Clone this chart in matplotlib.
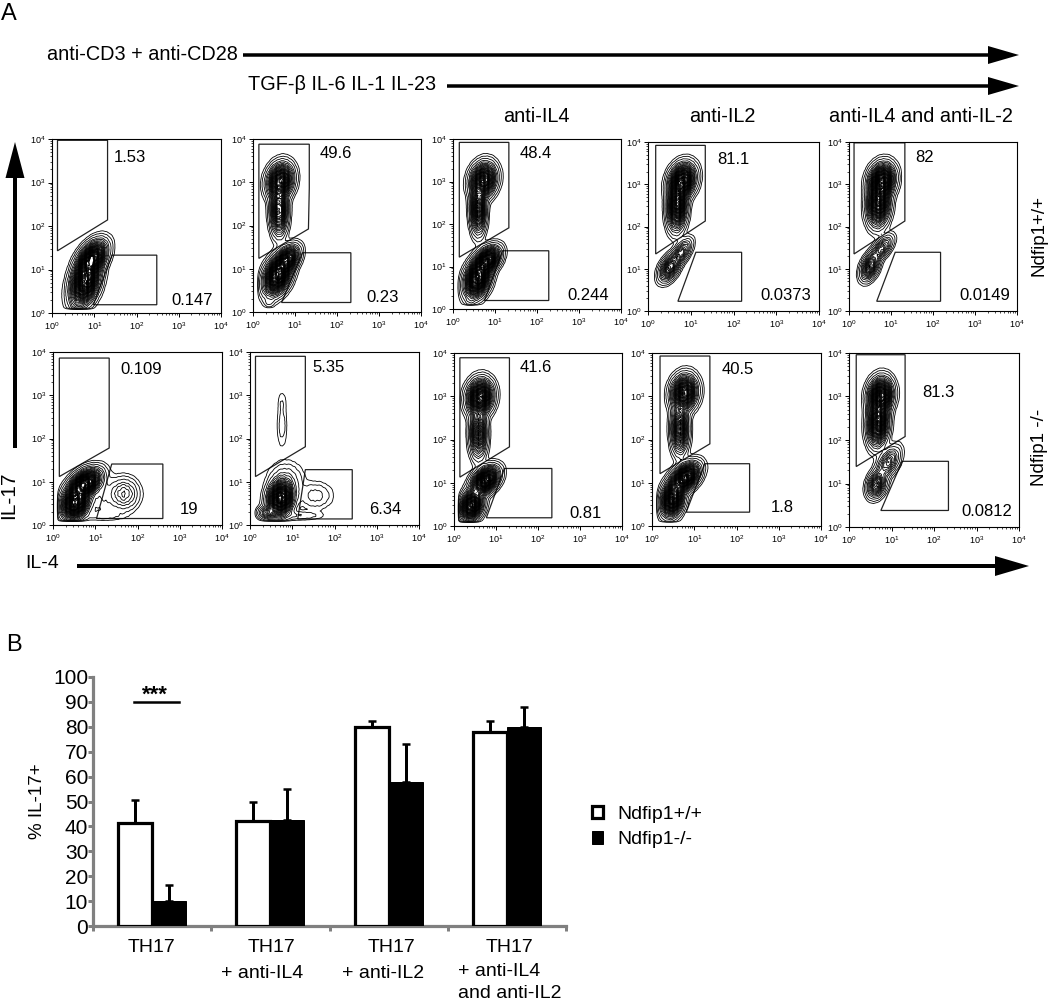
"""Flow cytometry contour panels (A) and % IL-17+ bar chart (B)."""

import matplotlib
matplotlib.use("Agg")
import matplotlib.pyplot as plt
import numpy as np
from matplotlib.patches import FancyArrow, Polygon

plt.rcParams["font.family"] = ["Liberation Sans", "DejaVu Sans"]

W, H = 1050, 1001

# ---------------------------------------------------------------------------
# Panel A data: all gate and population values are in log10 decades
# ---------------------------------------------------------------------------
UPPER_PCT = ["1.53", "49.6", "48.4", "81.1", "82", "0.109", "5.35", "41.6", "40.5", "81.3"]
LOWER_PCT = ["0.147", "0.23", "0.244", "0.0373", "0.0149", "19", "6.34", "0.81", "1.8", "0.0812"]

UPPER_GATES = [
    [(0.13, 3.97), (1.315, 3.97), (1.315, 2.14), (0.13, 1.43)],
    [(0.14, 3.88), (1.34, 3.88), (1.34, 2.86), (1.32, 1.92), (0.14, 1.24)],
    [(0.15, 3.92), (1.33, 3.92), (1.33, 1.91), (0.15, 1.22)],
    [(0.18, 3.92), (1.34, 3.92), (1.34, 2.13), (0.18, 1.35)],
    [(0.12, 3.98), (1.33, 3.98), (1.33, 2.13), (0.12, 1.35)],
    [(0.15, 3.86), (1.33, 3.86), (1.33, 1.78), (0.15, 1.12)],
    [(0.13, 3.90), (1.31, 3.90), (1.31, 1.81), (0.13, 1.12)],
    [(0.14, 3.89), (1.32, 3.89), (1.32, 1.83), (0.14, 1.13)],
    [(0.19, 3.93), (1.37, 3.93), (1.37, 1.90), (0.19, 1.21)],
    [(0.17, 3.96), (1.32, 3.96), (1.32, 2.08), (0.17, 1.39)],
]
LOWER_GATES = [
    [(0.98, 0.19), (1.42, 1.33), (2.48, 1.33), (2.48, 0.19)],
    [(0.68, 0.22), (1.18, 1.37), (2.33, 1.37), (2.33, 0.22)],
    [(0.75, 0.20), (1.18, 1.37), (2.28, 1.37), (2.28, 0.20)],
    [(0.70, 0.23), (1.12, 1.39), (2.19, 1.39), (2.19, 0.23)],
    [(0.66, 0.23), (1.10, 1.39), (2.18, 1.39), (2.18, 0.23)],
    [(1.03, 0.15), (1.39, 1.41), (2.60, 1.41), (2.60, 0.15)],
    [(1.13, 0.14), (1.31, 1.28), (2.42, 1.28), (2.42, 0.14)],
    [(0.77, 0.19), (1.20, 1.33), (2.33, 1.33), (2.33, 0.19)],
    [(0.81, 0.32), (1.25, 1.44), (2.31, 1.44), (2.31, 0.32)],
    [(0.75, 0.38), (1.25, 1.51), (2.34, 1.51), (2.34, 0.38)],
]

# cell populations: (il4, il17, spread il4, spread il17, tilt, weight)
POPULATIONS = [
    [(0.78, 0.72, .17, .27, .35, 1), (0.95, 1.25, .17, .20, .45, .9), (0.55, 0.18, .06, .06, 0, .03)],
    [(0.65, 3.03, .15, .20, .15, .8), (0.62, 2.35, .10, .28, 0, .6), (0.58, 0.85, .16, .22, .35, 1),
     (0.82, 1.22, .14, .16, .4, .6), (0.38, 0.22, .07, .07, 0, .03)],
    [(0.72, 3.03, .15, .20, .15, .8), (0.60, 2.35, .09, .28, 0, .6), (0.58, 0.72, .15, .22, .3, 1),
     (0.82, 1.15, .15, .16, .4, .8), (0.40, 0.18, .07, .06, 0, .03)],
    [(0.80, 3.08, .15, .20, .2, .9), (0.68, 2.50, .11, .28, .1, .8), (0.50, 1.02, .12, .16, .45, .4),
     (0.78, 1.38, .12, .16, .6, .25)],
    [(0.78, 3.08, .15, .20, .15, .9), (0.70, 2.55, .13, .26, .1, .8), (0.50, 1.05, .11, .16, .4, .4),
     (0.78, 1.48, .13, .15, .6, .25)],
    [(0.52, 0.50, .16, .18, .2, 1), (0.75, 0.95, .19, .17, .45, 1), (1.68, 0.72, .18, .19, 0, .14),
     (1.20, 0.70, .20, .25, 0, .03), (1.20, 0.22, .30, .07, 0, .02)],
    [(0.72, 0.62, .15, .21, .15, 1), (0.42, 0.28, .12, .08, 0, .2), (0.85, 1.05, .22, .22, 0, .05),
     (0.76, 2.30, .07, .30, 0, .022), (0.76, 2.85, .06, .15, 0, .012), (1.55, 0.68, .22, .17, 0, .04),
     (1.15, 0.22, .32, .06, 0, .03)],
    [(0.62, 2.98, .15, .20, .1, .9), (0.58, 2.15, .10, .28, 0, .5), (0.42, 0.48, .13, .17, .2, .9),
     (0.74, 1.05, .16, .16, .4, .9)],
    [(0.76, 3.08, .15, .20, .1, .8), (0.66, 2.25, .10, .28, 0, .55), (0.48, 0.62, .13, .20, .2, .9),
     (0.78, 1.12, .17, .17, .45, .9)],
    [(0.74, 3.02, .14, .20, .1, .9), (0.68, 2.40, .12, .26, .1, .8), (0.65, 0.98, .11, .15, .25, .4),
     (0.92, 1.48, .14, .18, .5, .25)],
]
CONTOUR_LEVELS = [.006, .014, .03, .055, .08, .11, .14, .17, .20, .23, .26, .29, .32, .35, .38, .41, .44, .47,
                  .50, .53, .56, .59, .62, .65, .68, .71, .74, .77, .80, .83, .86, .89, .92, .95, .98, 1.01]

# small lumps of the gated cell counts, repeated over the plot
LUMPS = [
    [0.8, -0.6, 0.3, -0.9, 0.6],
    [0.5, -0.9, 0.7, -0.4, 0.2],
    [0.9, -0.3, -0.2, -0.8, 0.8],
    [0.2, -0.8, 0.6, -0.6, 0.4],
    [0.7, -0.5, 0.1, -1.0, 0.9],
    [0.4, -0.7, 0.8, -0.3, -0.1],
    [1.0, -0.4, 0.4, -0.7, 0.5],
]

DECADES = [0, 1, 2, 3, 4]
DECADE_LABELS = ["$\\mathdefault{10^{%d}}$" % d for d in DECADES]

# ---------------------------------------------------------------------------
# Panel B data
# ---------------------------------------------------------------------------
GROUPS = [["TH17"], ["TH17", "+ anti-IL4"], ["TH17", "+ anti-IL2"], ["TH17", "+ anti-IL4", "and anti-IL2"]]
WT_MEAN = [41.5, 42, 80, 78]
WT_TOP = [50.5, 50, 82.5, 82.5]
KO_MEAN = [10, 42.5, 58, 80]
KO_TOP = [16.5, 55, 73, 88]
GENOTYPES = ["Ndfip1+/+", "Ndfip1-/-"]
Y_TICKS = list(range(0, 101, 10))

# pixel layout of the panels: left, top, right, bottom
PANEL_BOXES = [
    (52, 139, 221, 313), (253, 139, 421, 312), (453, 139, 621, 309), (648, 142, 819, 311), (849, 142, 1017, 311),
    (53, 352, 222, 525), (250, 352, 419, 525), (454, 353, 622, 526), (652, 353, 821, 526), (849, 353, 1019, 527),
]
UPPER_XY = [(130, 158), (336, 154), (536, 153), (733, 160), (925, 158),
            (141, 369), (329, 368), (536, 368), (738, 369), (938, 392)]
LOWER_XY = [(192, 300), (383, 298), (588, 296), (786, 296), (985, 296),
            (189, 509), (385, 510), (586, 513), (782, 508), (987, 512)]


def px(v):
    """Pixels to points."""
    return v * 72 / 100


def add_axes(left, top, right, bottom):
    return fig.add_axes([left / W, 1 - bottom / H, (right - left) / W, (bottom - top) / H])


def label(x, y, s, size=12, **kw):
    kw.setdefault("ha", "center")
    fig.text(x / W, 1 - y / H, s, fontsize=size, va="center", **kw)


def arrow(x0, y0, x1, y1, width, head_len, head_w):
    """Thick black arrow in figure pixels."""
    overlay.add_patch(FancyArrow(x0, y0, x1 - x0, y1 - y0, width=width, head_width=head_w, head_length=head_len,
                                 length_includes_head=True, color="black", lw=0))


def density(pops, x, y):
    z = np.zeros_like(x)
    for cx, cy, sx, sy, rho, w in pops:
        dx, dy = (x - cx) / sx, (y - cy) / sy
        z += w * np.exp(-(dx**2 - 2 * rho * dx * dy + dy**2) / (2 * (1 - rho**2)))
    rows, cols = x.shape
    lumps = np.array(LUMPS)
    tile = np.tile(lumps, (rows // lumps.shape[0] + 1, cols // lumps.shape[1] + 1))[:rows, :cols]
    z = z * (1 + 0.09 * tile)
    z[(y < 0.1) | (x < 0.1)] = 0
    return z


fig = plt.figure(figsize=(W / 100, H / 100), dpi=100)
overlay = fig.add_axes([0, 0, 1, 1], zorder=5)
overlay.set_xlim(0, W)
overlay.set_ylim(H, 0)
overlay.axis("off")

# ---------------------------------------------------------------------------
# Panel A
# ---------------------------------------------------------------------------
grid_x, grid_y = np.meshgrid(np.linspace(0, 4, 84), np.linspace(0, 4, 100))
minor = [d + np.log10(m) for d in DECADES[:-1] for m in range(2, 10)]

for i, box in enumerate(PANEL_BOXES):
    ax = add_axes(*box)
    ax.contour(grid_x, grid_y, density(POPULATIONS[i], grid_x, grid_y),
               levels=CONTOUR_LEVELS, colors="black", linewidths=0.6)
    ax.add_patch(Polygon(UPPER_GATES[i], closed=True, fill=False, edgecolor="#222222", lw=0.9))
    ax.add_patch(Polygon(LOWER_GATES[i], closed=True, fill=False, edgecolor="#222222", lw=0.9))
    ax.set_xlim(0, 4)
    ax.set_ylim(0, 4)
    ax.set_xticks(DECADES, DECADE_LABELS)
    ax.set_yticks(DECADES, DECADE_LABELS)
    ax.set_xticks(minor, minor=True)
    ax.set_yticks(minor, minor=True)
    ax.tick_params(which="major", length=3, width=0.7, labelsize=6.5, pad=2)
    ax.tick_params(which="minor", length=1.5, width=0.5)
    for spine in ax.spines.values():
        spine.set_linewidth(0.8)
    label(*UPPER_XY[i], UPPER_PCT[i])
    label(*LOWER_XY[i], LOWER_PCT[i])

label(9, 14, "A", size=17)
label(47, 54, "anti-CD3 + anti-CD28", size=14.3, ha="left")
label(248, 85, "TGF-β IL-6 IL-1 IL-23", size=14.3, ha="left")
label(536, 117, "anti-IL4", size=14.3)
label(722, 117, "anti-IL2", size=14.3)
label(921, 117, "anti-IL4 and anti-IL-2", size=14.3)
label(9, 495, "IL-17", size=15, rotation=90)
label(42, 564, "IL-4", size=14)
label(1039, 236, "Ndfip1+/+", size=13.5, rotation=90)
label(1039, 447, "Ndfip1 -/-", size=13.5, rotation=90)

arrow(243, 55, 1019, 55, 3.5, 31, 18)
arrow(447, 86, 1019, 86, 3.5, 31, 18)
arrow(15, 448, 15, 142, 4, 36, 19)
arrow(77, 566, 1029, 566, 4, 34, 20)

# ---------------------------------------------------------------------------
# Panel B
# ---------------------------------------------------------------------------
label(14, 645, "B", size=17)
bar_ax = add_axes(93, 677, 566, 926)
x = np.arange(len(GROUPS))
bar_w = 0.287
wt_bars = bar_ax.bar(x - bar_w / 2, WT_MEAN, bar_w, facecolor="white", edgecolor="black", lw=px(3.2), zorder=3)
ko_bars = bar_ax.bar(x + bar_w / 2, KO_MEAN, bar_w, facecolor="black", edgecolor="black", lw=px(1), zorder=3)
for offset, means, tops in [(-bar_w / 2, WT_MEAN, WT_TOP), (bar_w / 2, KO_MEAN, KO_TOP)]:
    errors = np.array(tops) - np.array(means)
    bar_ax.errorbar(x + offset, means, yerr=[np.zeros_like(errors), errors], fmt="none",
                    ecolor="black", elinewidth=px(3), capsize=px(4), capthick=px(2.5), zorder=2)

bar_ax.set_xlim(-0.5, 3.5)
bar_ax.set_ylim(0, 100)
bar_ax.set_yticks(Y_TICKS)
bar_ax.set_xticks(np.arange(len(GROUPS) + 1) - 0.5, [""] * (len(GROUPS) + 1))
bar_ax.tick_params(axis="y", labelsize=15, length=3.5, width=px(3), color="#808080", pad=0)
bar_ax.tick_params(axis="x", length=3.5, width=px(3), color="#808080")
bar_ax.spines[["top", "right"]].set_visible(False)
bar_ax.spines[["left", "bottom"]].set_linewidth(px(3.2))
bar_ax.spines[["left", "bottom"]].set_color("#808080")
bar_ax.set_ylabel("% IL-17+", fontsize=13.5, labelpad=5)
bar_ax.plot([-0.155, 0.225], [90, 90], color="black", lw=px(2.5), clip_on=False)
bar_ax.text(0.02, 92.5, "***", ha="center", va="center", fontsize=16, fontweight="bold")

GROUP_XY = [[(151, 948)], [(272, 948), (262, 973)], [(392, 948), (383, 973)], [(509, 947), (499, 972), (510, 993)]]
for lines, spots in zip(GROUPS, GROUP_XY):
    for text, (tx, ty) in zip(lines, spots):
        label(tx, ty, text, size=14)

fig.legend([wt_bars[0], ko_bars[0]], GENOTYPES, loc="center left",
           bbox_to_anchor=(574 / W, 1 - 827 / H), frameon=False, fontsize=14,
           handlelength=0.6, handleheight=0.6, handletextpad=0.75, labelspacing=0.45)

fig.savefig("out.png", dpi=100)
